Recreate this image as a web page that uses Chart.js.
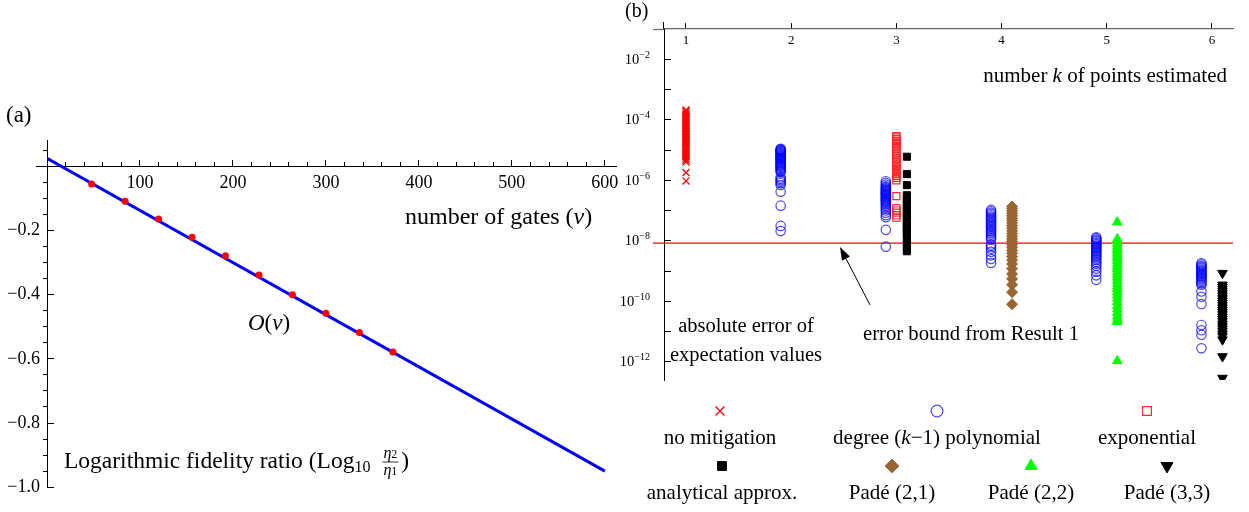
<!DOCTYPE html>
<html><head><meta charset="utf-8">
<script src="https://cdn.jsdelivr.net/npm/chart.js@4"></script>
<style>
html,body{margin:0;padding:0;background:#fff;width:1249px;height:512px;overflow:hidden}
#ca{position:absolute;left:0;top:0}
#cb{position:absolute;left:620px;top:0}
</style></head><body>
<canvas id="ca" width="620" height="512"></canvas>
<canvas id="cb" width="629" height="512"></canvas>
<script>
// ================= Panel (a) data =================
const gateCounts = [48, 84, 120, 156, 192, 228, 264, 300, 336, 372];
const logFidelityRatio = [-0.055, -0.109, -0.164, -0.221, -0.279, -0.339, -0.400, -0.458, -0.518, -0.579];
const fitGateCounts = [0, 600];
const fitLogRatio = [0.025, -0.950];
const gateMajorTicks = [100, 200, 300, 400, 500, 600];
const gateMajorLabels = ['100', '200', '300', '400', '500', '600'];
const gateMinorTicks = [20, 40, 60, 80, 120, 140, 160, 180, 220, 240, 260, 280, 320, 340, 360, 380, 420, 440, 460, 480, 520, 540, 560, 580];
const ratioMajorTicks = [-1.0, -0.8, -0.6, -0.4, -0.2];
const ratioMajorLabels = ['\u22121.0', '\u22120.8', '\u22120.6', '\u22120.4', '\u22120.2'];
const ratioMinorTicks = [-0.95, -0.9, -0.85, -0.75, -0.7, -0.65, -0.55, -0.5, -0.45, -0.35, -0.3, -0.25, -0.15, -0.1, -0.05, 0.05];

// ================= Panel (b) data =================
const pointCountTicks = [1, 2, 3, 4, 5, 6];
const pointCountLabels = ['1', '2', '3', '4', '5', '6'];
const decadeTicks = [1e-2, 1e-3, 1e-4, 1e-5, 1e-6, 1e-7, 1e-8, 1e-9, 1e-10, 1e-11, 1e-12];
const decadeExponentLabels = ['\u22122', '', '\u22124', '', '\u22126', '', '\u22128', '', '\u221210', '', '\u221212'];
const errorBound = 8.4e-9;

const noMitigation_k1 = [2.1e-4, 1.9e-4, 1.65e-4, 1.45e-4, 1.25e-4, 1.1e-4, 9.5e-5, 8.3e-5, 7.3e-5, 6.4e-5, 5.7e-5, 5.1e-5, 4.5e-5, 4e-5, 3.6e-5, 3.2e-5, 2.8e-5, 2.5e-5, 2.2e-5, 2e-5, 1.8e-5, 1.6e-5, 1.4e-5, 1.2e-5, 1.05e-5, 9.2e-6, 8e-6, 7e-6, 6.1e-6, 5.3e-6, 4.6e-6, 4e-6, 1.8e-6, 9.5e-7];
const polynomial_k2 = [1.1e-5, 1.05e-5, 1.0e-5, 9.6e-6, 9.2e-6, 8.8e-6, 8.4e-6, 8e-6, 7.6e-6, 7.2e-6, 6.9e-6, 6.6e-6, 6.3e-6, 6e-6, 5.7e-6, 5.4e-6, 5.1e-6, 4.8e-6, 4.5e-6, 4.2e-6, 3.9e-6, 3.6e-6, 3.4e-6, 3.2e-6, 3e-6, 2.8e-6, 2.6e-6, 2.4e-6, 2.2e-6, 2e-6, 1.9e-6, 1.25e-6, 1.1e-6, 1.0e-6, 9e-7, 8e-7, 7e-7, 4.2e-7, 1.45e-7, 3.1e-8, 2.1e-8];
const polynomial_k3 = [9.3e-7, 8.2e-7, 7.2e-7, 6.5e-7, 6e-7, 5.5e-7, 5.1e-7, 4.8e-7, 4.5e-7, 4.2e-7, 3.9e-7, 3.7e-7, 3.5e-7, 3.3e-7, 3.1e-7, 2.9e-7, 2.7e-7, 2.5e-7, 2.35e-7, 2.2e-7, 2.05e-7, 1.9e-7, 1.75e-7, 1.6e-7, 1.45e-7, 1.3e-7, 1.15e-7, 1e-7, 8.5e-8, 7e-8, 6e-8, 2.3e-8, 6.4e-9];
const polynomial_k4 = [1.05e-7, 9.5e-8, 8.6e-8, 7.8e-8, 7e-8, 6.3e-8, 5.7e-8, 5.1e-8, 4.6e-8, 4.2e-8, 3.8e-8, 3.4e-8, 3.1e-8, 2.8e-8, 2.5e-8, 2.2e-8, 2e-8, 1.8e-8, 1.6e-8, 1.4e-8, 1.25e-8, 1.1e-8, 7.5e-9, 6.5e-9, 5.5e-9, 4.3e-9, 3.3e-9, 2.5e-9, 1.85e-9];
const polynomial_k5 = [1.3e-8, 1.2e-8, 1.1e-8, 1.02e-8, 9.5e-9, 8.8e-9, 8.2e-9, 7.6e-9, 7e-9, 6.5e-9, 6e-9, 5.5e-9, 5.1e-9, 4.7e-9, 4.3e-9, 3.9e-9, 3.5e-9, 3.2e-9, 2.9e-9, 2.6e-9, 2.3e-9, 2e-9, 1.75e-9, 1.5e-9, 1.2e-9, 9.5e-10, 7.2e-10, 5.1e-10];
const polynomial_k6 = [1.8e-9, 1.65e-9, 1.5e-9, 1.4e-9, 1.3e-9, 1.2e-9, 1.1e-9, 1.02e-9, 9.5e-10, 8.8e-10, 8.1e-10, 7.5e-10, 6.9e-10, 6.3e-10, 5.8e-10, 5.3e-10, 4.8e-10, 4.3e-10, 3.9e-10, 3.5e-10, 2.1e-10, 1.4e-10, 8.1e-11, 1.65e-11, 1.1e-11, 7.8e-12, 2.8e-12];
const exponential_k3 = [2.9e-5, 2.6e-5, 2.3e-5, 2.0e-5, 1.8e-5, 1.6e-5, 1.4e-5, 1.25e-5, 1.1e-5, 9.5e-6, 8.3e-6, 7.2e-6, 6.2e-6, 5.3e-6, 4.6e-6, 4e-6, 3.5e-6, 3e-6, 2.6e-6, 2.2e-6, 1.9e-6, 1.6e-6, 1.4e-6, 1.2e-6, 1.0e-6, 3e-7, 1.2e-7, 1.0e-7, 8.5e-8, 7e-8, 5.8e-8];
const analytical_k3 = [6e-6, 1.6e-6, 6.9e-7, 3.2e-7, 2.7e-7, 2.2e-7, 1.8e-7, 1.5e-7, 1.25e-7, 1.05e-7, 9e-8, 7.5e-8, 6.2e-8, 5.2e-8, 4.3e-8, 3.6e-8, 3e-8, 2.5e-8, 2.1e-8, 1.75e-8, 1.5e-8, 9.3e-9, 7.5e-9, 6e-9, 4.5e-9];
const pade21_k4 = [1.35e-7, 1.15e-7, 9.5e-8, 8e-8, 6.7e-8, 5.6e-8, 4.7e-8, 3.9e-8, 3.2e-8, 2.6e-8, 2.1e-8, 1.7e-8, 1.4e-8, 1.15e-8, 9.5e-9, 7.6e-9, 6.1e-9, 4.9e-9, 3.9e-9, 3e-9, 2.3e-9, 1.7e-9, 1.2e-9, 8e-10, 5.5e-10, 3.5e-10, 2e-10, 8e-11];
const pade22_k5 = [4.1e-8, 1.15e-8, 9.6e-9, 8e-9, 6.6e-9, 5.5e-9, 4.6e-9, 3.8e-9, 3.1e-9, 2.6e-9, 2.1e-9, 1.7e-9, 1.4e-9, 1.15e-9, 9.3e-10, 7.6e-10, 6.1e-10, 4.9e-10, 3.9e-10, 3.1e-10, 2.5e-10, 2e-10, 1.6e-10, 1.25e-10, 9.5e-11, 7.2e-11, 5.5e-11, 4.2e-11, 3.2e-11, 2.5e-11, 2.1e-11, 1.07e-12];
const pade33_k6 = [8.5e-10, 3.5e-10, 3e-10, 2.55e-10, 2.15e-10, 1.8e-10, 1.5e-10, 1.25e-10, 1.05e-10, 8.8e-11, 7.4e-11, 6.2e-11, 5.2e-11, 4.4e-11, 3.7e-11, 3.1e-11, 2.6e-11, 2.2e-11, 1.8e-11, 1.5e-11, 1.25e-11, 1.03e-11, 8.5e-12, 7e-12, 5.4e-12, 1.5e-12, 2.9e-13];

// ================= helpers =================
const SERIF = '"Liberation Serif", "DejaVu Serif", serif';
const fnt = (size, style) => (style ? style + ' ' : '') + size + 'px ' + SERIF;
Chart.defaults.font.family = SERIF;
Chart.defaults.color = '#000';

function drawRuns(ctx, x, y, runs, align) {
  let total = 0;
  runs.forEach(r => { ctx.font = r.font; r.w = ctx.measureText(r.text).width; total += r.w; });
  let cx = align === 'center' ? x - total / 2 : (align === 'right' ? x - total : x);
  ctx.textAlign = 'left';
  ctx.textBaseline = 'alphabetic';
  runs.forEach(r => { ctx.font = r.font; ctx.fillText(r.text, cx, y + (r.dy || 0)); cx += r.w; });
  return total;
}
function italicK(text, size) {
  return text.split(/(\bk\b)/).filter(s => s.length).map(s => ({ text: s, font: fnt(size, s === 'k' ? 'italic' : '') }));
}
function setTicks(values) { return scale => { scale.ticks = values.map(v => ({ value: v })); }; }
function noSidePadding(scale) { scale.paddingLeft = 0; scale.paddingRight = 0; }

// ================= Panel (a) =================
const panelAText = {
  id: 'panelAText',
  afterDraw(chart) {
    const ctx = chart.ctx;
    const xs = chart.scales.x, ys = chart.scales.y;
    ctx.save();
    ctx.strokeStyle = '#000'; ctx.lineWidth = 1;
    const y0 = Math.round(ys.getPixelForValue(0)) + 0.5;
    ctx.beginPath(); ctx.moveTo(36, y0); ctx.lineTo(xs.left, y0); ctx.stroke();

    ctx.fillStyle = '#000';
    drawRuns(ctx, 6, 122, [{ text: '(a)', font: fnt(23) }]);
    drawRuns(ctx, 405, 224, [
      { text: 'number of gates (', font: fnt(24) },
      { text: '\u03BD', font: fnt(24, 'italic') },
      { text: ')', font: fnt(24) }]);
    drawRuns(ctx, 248, 330, [
      { text: 'O', font: fnt(23, 'italic') },
      { text: '(', font: fnt(23) },
      { text: '\u03BD', font: fnt(23, 'italic') },
      { text: ')', font: fnt(23) }]);
    let x = 64, y = 468;
    x += drawRuns(ctx, x, y, [
      { text: 'Logarithmic fidelity ratio (Log', font: fnt(23.5) },
      { text: '10', font: fnt(16), dy: 4 }]);
    x += 12;
    ctx.font = fnt(16, 'italic');
    const etaW = ctx.measureText('\u03B7').width;
    ctx.font = fnt(12);
    const digW = ctx.measureText('2').width;
    const fw = etaW + digW;
    drawRuns(ctx, x + 1, y - 10, [{ text: '\u03B7', font: fnt(16, 'italic') }, { text: '2', font: fnt(12) }]);
    drawRuns(ctx, x + 1, y + 7, [{ text: '\u03B7', font: fnt(16, 'italic') }, { text: '1', font: fnt(12) }]);
    ctx.lineWidth = 0.8;
    ctx.beginPath(); ctx.moveTo(x, y - 6); ctx.lineTo(x + fw + 2, y - 6); ctx.stroke();
    x += fw + 5;
    drawRuns(ctx, x, y, [{ text: ')', font: fnt(23.5) }]);
    ctx.restore();
  }
};

new Chart(document.getElementById('ca'), {
  type: 'scatter',
  data: {
    datasets: [
      {
        label: 'simulated ratio',
        data: gateCounts.map((g, i) => ({ x: g, y: logFidelityRatio[i] })),
        xAxisID: 'x', yAxisID: 'y',
        pointRadius: 3.5, pointBackgroundColor: '#ff0000', pointBorderColor: '#ff0000', pointBorderWidth: 0
      },
      {
        type: 'line',
        label: 'O(\u03BD) fit',
        data: fitGateCounts.map((g, i) => ({ x: g, y: fitLogRatio[i] })),
        xAxisID: 'x', yAxisID: 'y',
        borderColor: '#0000ff', borderWidth: 3, pointRadius: 0, fill: false
      }
    ]
  },
  options: {
    responsive: false, animation: false, devicePixelRatio: 1,
    layout: { padding: { top: 140, bottom: 15, left: 0, right: 4 } },
    plugins: { legend: { display: false }, tooltip: { enabled: false } },
    scales: {
      x: {
        type: 'linear', min: 0, max: 612, position: { y: 0 },
        afterFit: noSidePadding,
        grid: { drawOnChartArea: false, tickLength: -7, color: '#000' },
        border: { color: '#000', width: 1 },
        ticks: { font: { size: 18 }, color: '#000', padding: 13, autoSkip: false, maxRotation: 0,
          callback: (v, i) => gateMajorLabels[i] },
        afterBuildTicks: setTicks(gateMajorTicks)
      },
      xMinor: {
        type: 'linear', axis: 'x', min: 0, max: 612, position: { y: 0 },
        afterFit: noSidePadding,
        grid: { drawOnChartArea: false, tickLength: -4, color: '#000' },
        border: { display: false },
        ticks: { display: false },
        afterBuildTicks: setTicks(gateMinorTicks)
      },
      y: {
        type: 'linear', min: -1, max: 0.082, position: 'left',
        afterFit: s => { s.width = 47; },
        grid: { drawOnChartArea: false, tickLength: -7, color: '#000' },
        border: { color: '#000', width: 1 },
        ticks: { font: { size: 18 }, color: '#000', padding: 14, autoSkip: false,
          callback: (v, i) => ratioMajorLabels[i] },
        afterBuildTicks: setTicks(ratioMajorTicks)
      },
      yMinor: {
        type: 'linear', axis: 'y', min: -1, max: 0.082, position: { x: 0 },
        grid: { drawOnChartArea: false, tickLength: 4, color: '#000' },
        border: { display: false },
        ticks: { display: false },
        afterBuildTicks: setTicks(ratioMinorTicks)
      }
    }
  },
  plugins: [panelAText]
});

// ================= Panel (b) =================
const OFFSET = 0.1;
const column = (k, values) => values.map(v => ({ x: k, y: v }));
const BROWN = 'rgb(153,102,51)';
const BLUE = 'rgba(0,0,255,0.72)';
const LEGEND_SCALE = 1.25;

const legendSlots = [
  { x: 100, y: 411 }, { x: 317, y: 411 }, { x: 527, y: 411 },
  { x: 102, y: 466 }, { x: 272, y: 466 }, { x: 411, y: 466 }, { x: 547, y: 466 }
];

function drawMarker(ctx, ds, x, y, scaleF) {
  ctx.save();
  ctx.fillStyle = ds.pointBackgroundColor;
  ctx.strokeStyle = ds.pointBorderColor;
  ctx.lineWidth = ds.pointBorderWidth;
  Chart.helpers.drawPoint(ctx, {
    pointStyle: ds.pointStyle, radius: ds.pointRadius * scaleF,
    rotation: ds.pointRotation || 0, borderWidth: ds.pointBorderWidth
  }, x, y);
  ctx.restore();
}

const panelBText = {
  id: 'panelBText',
  afterDraw(chart) {
    const ctx = chart.ctx;
    const xs = chart.scales.x, ys = chart.scales.y;
    ctx.save();
    ctx.strokeStyle = '#666'; ctx.lineWidth = 1.2;
    const topY = Math.round(ys.top) + 0.5;
    ctx.beginPath(); ctx.moveTo(33, topY); ctx.lineTo(xs.left, topY); ctx.stroke();
    ctx.strokeStyle = '#000'; ctx.lineWidth = 1;
    const leftX = Math.round(xs.left) - 0.5;
    ctx.beginPath(); ctx.moveTo(leftX, 22); ctx.lineTo(leftX, ys.top); ctx.stroke();

    ctx.fillStyle = '#000';
    decadeTicks.forEach((v, i) => {
      const e = decadeExponentLabels[i];
      if (!e) return;
      const py = ys.getPixelForValue(v);
      drawRuns(ctx, 30, py + 4.5, [
        { text: '10', font: fnt(14.5) },
        { text: e, font: fnt(10), dy: -6 }], 'right');
    });

    drawRuns(ctx, 5, 17, [{ text: '(b)', font: fnt(20) }]);
    drawRuns(ctx, 607, 82, italicK('number k of points estimated', 21), 'right');
    drawRuns(ctx, 126, 332, [{ text: 'absolute error of', font: fnt(20.5) }], 'center');
    drawRuns(ctx, 126, 361, [{ text: 'expectation values', font: fnt(20.5) }], 'center');
    drawRuns(ctx, 243, 340, [{ text: 'error bound from Result 1', font: fnt(20.7) }]);

    const tx = xs.getPixelForValue(2.749), ty = ys.getPixelForValue(7.6e-11);
    const hx = xs.getPixelForValue(2.464), hy = ys.getPixelForValue(6.2e-9);
    const ang = Math.atan2(hy - ty, hx - tx);
    const L = 13, W = 4.5;
    const bx = hx - L * Math.cos(ang), by = hy - L * Math.sin(ang);
    ctx.strokeStyle = '#000'; ctx.lineWidth = 1;
    ctx.beginPath(); ctx.moveTo(tx, ty); ctx.lineTo(bx, by); ctx.stroke();
    ctx.beginPath();
    ctx.moveTo(hx, hy);
    ctx.lineTo(bx + W * Math.sin(ang), by - W * Math.cos(ang));
    ctx.lineTo(bx - W * Math.sin(ang), by + W * Math.cos(ang));
    ctx.closePath(); ctx.fill();

    chart.data.datasets.filter(d => d.inLegend).forEach((ds, i) => {
      const slot = legendSlots[i];
      drawMarker(ctx, ds, slot.x, slot.y, LEGEND_SCALE);
      ctx.fillStyle = '#000';
      drawRuns(ctx, slot.x, slot.y + 33, italicK(ds.label, 21), 'center');
    });
    ctx.restore();
  }
};

new Chart(document.getElementById('cb'), {
  type: 'scatter',
  data: {
    datasets: [
      {
        label: 'no mitigation', inLegend: true,
        data: column(1, noMitigation_k1),
        pointStyle: 'crossRot', pointRadius: 5, pointBorderWidth: 1.3,
        pointBorderColor: '#ff0000', pointBackgroundColor: '#ff0000'
      },
      {
        label: 'degree (k\u22121) polynomial', inLegend: true,
        data: [].concat(column(2 - OFFSET, polynomial_k2), column(3 - OFFSET, polynomial_k3),
          column(4 - OFFSET, polynomial_k4), column(5 - OFFSET, polynomial_k5), column(6 - OFFSET, polynomial_k6)),
        pointStyle: 'circle', pointRadius: 4.7, pointBorderWidth: 1.2,
        pointBorderColor: BLUE, pointBackgroundColor: 'rgba(0,0,0,0)'
      },
      {
        label: 'exponential', inLegend: true,
        data: column(3, exponential_k3),
        pointStyle: 'rect', pointRadius: 5, pointBorderWidth: 1.2,
        pointBorderColor: '#ff2a2a', pointBackgroundColor: 'rgba(0,0,0,0)'
      },
      {
        label: 'analytical approx.', inLegend: true,
        data: column(3 + OFFSET, analytical_k3),
        pointStyle: 'rect', pointRadius: 5, pointBorderWidth: 1,
        pointBorderColor: '#000', pointBackgroundColor: '#000'
      },
      {
        label: 'Pad\u00E9 (2,1)', inLegend: true,
        data: column(4 + OFFSET, pade21_k4),
        pointStyle: 'rectRot', pointRadius: 5.5, pointBorderWidth: 1,
        pointBorderColor: BROWN, pointBackgroundColor: BROWN
      },
      {
        label: 'Pad\u00E9 (2,2)', inLegend: true,
        data: column(5 + OFFSET, pade22_k5),
        pointStyle: 'triangle', pointRadius: 5.5, pointBorderWidth: 1,
        pointBorderColor: '#00ff00', pointBackgroundColor: '#00ff00'
      },
      {
        label: 'Pad\u00E9 (3,3)', inLegend: true,
        data: column(6 + OFFSET, pade33_k6),
        pointStyle: 'triangle', pointRotation: 180, pointRadius: 5.5, pointBorderWidth: 1,
        pointBorderColor: '#000', pointBackgroundColor: '#000'
      },
      {
        type: 'line', label: 'error bound from Result 1',
        data: [{ x: 0.686, y: errorBound }, { x: 6.2, y: errorBound }],
        borderColor: '#ff0000', borderWidth: 1.2, pointRadius: 0, fill: false, clip: false
      }
    ]
  },
  options: {
    responsive: false, animation: false, devicePixelRatio: 1,
    layout: { padding: { top: 29, bottom: 132, left: 0, right: 16 } },
    plugins: { legend: { display: false }, tooltip: { enabled: false } },
    scales: {
      x: {
        type: 'linear', min: 0.791, max: 6.2, position: { y: 0.1 },
        afterFit: noSidePadding,
        grid: { drawOnChartArea: false, tickLength: -6, color: '#000' },
        border: { color: '#666', width: 1.2 },
        ticks: { font: { size: 13 }, color: '#000', padding: 10, autoSkip: false, maxRotation: 0,
          callback: (v, i) => pointCountLabels[i] },
        afterBuildTicks: setTicks(pointCountTicks)
      },
      y: {
        type: 'logarithmic', min: 2.5e-13, max: 0.1, position: 'left',
        afterFit: s => { s.width = 44; },
        grid: { drawOnChartArea: false, tickLength: -7, color: '#000' },
        border: { color: '#000', width: 1 },
        ticks: { display: false },
        afterBuildTicks: setTicks(decadeTicks)
      }
    }
  },
  plugins: [panelBText]
});
</script></body></html>
